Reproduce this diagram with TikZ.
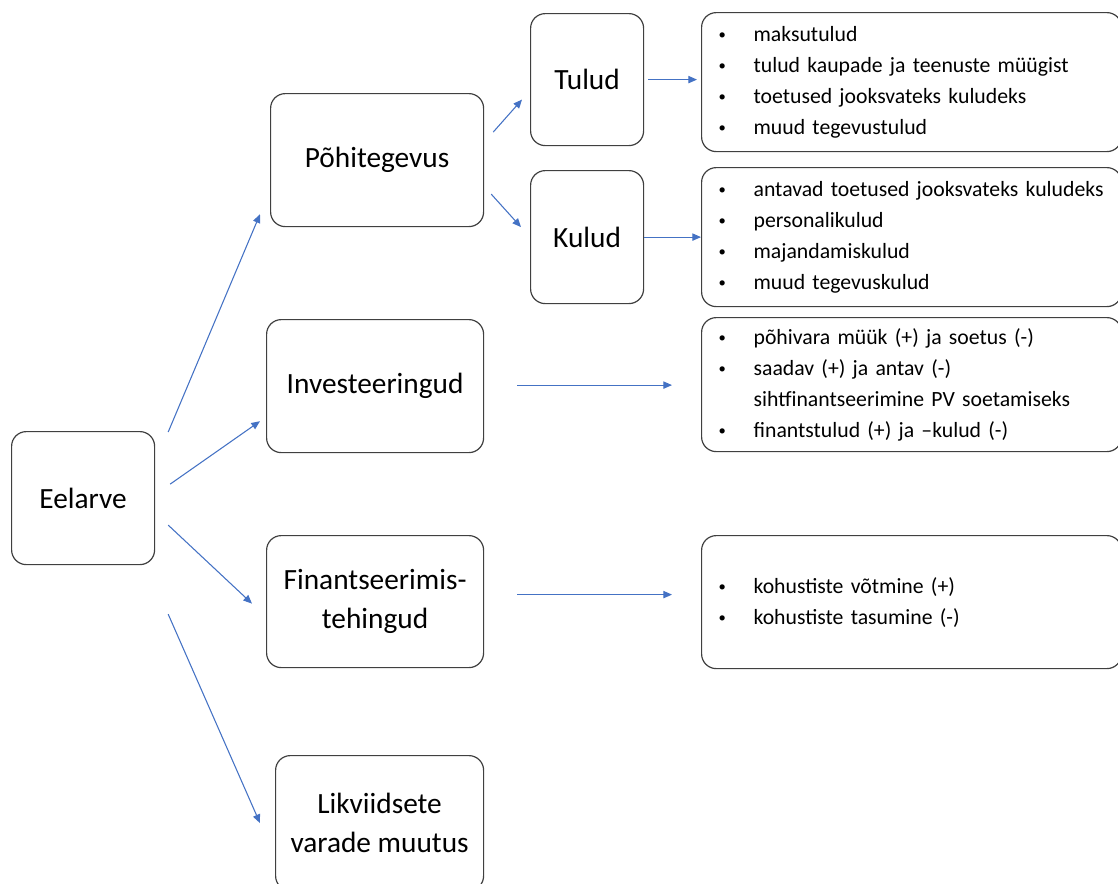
\documentclass[tikz,border=0pt]{standalone}
\usepackage{fontspec}
\setmainfont{Carlito}
\newfontfamily\listfont{Carlito}[WordSpace=0.7]
\usetikzlibrary{arrows.meta,calc}
\definecolor{arrblue}{HTML}{4472C4}
\definecolor{edge}{HTML}{404040}
\tikzset{
  box/.style={draw=edge, line width=0.9pt, rounded corners=11pt, align=center, anchor=north west,
    inner sep=0pt, font=\fontsize{22}{29.5}\selectfont},
  listbox/.style={draw=edge, line width=0.9pt, rounded corners=11pt, align=left, anchor=north west,
    inner xsep=11.25pt, inner ysep=0pt, text width=292.5pt, font=\listfont\fontsize{16.3}{23.2}\selectfont},
  arr/.style={draw=arrblue, line width=0.8pt, -{Triangle[length=6.5pt,width=5.5pt]}}
}
\newcommand{\bul}{\makebox[27.75pt][l]{\hspace{1.5pt}\raisebox{1.2pt}{\fontsize{11}{11}\selectfont\textbullet}}}
\newcommand{\nobul}{\makebox[27.75pt][l]{}}
\newcommand{\li}[1]{\bul\mbox{#1}}
\begin{document}
\begin{tikzpicture}[x=0.75pt,y=-0.75pt]
\useasboundingbox (0,0) rectangle (1118,883);

% left column
\node[box, minimum width=107.25pt, minimum height=99.75pt] (eelarve) at (11,431) {Eelarve};

% middle column
\node[box, minimum width=159.75pt, minimum height=99.75pt] (pohi) at (270,93) {Põhitegevus};
\node[box, minimum width=162.75pt, minimum height=99.75pt] (invest) at (266,319) {Investeeringud};
\node[box, minimum width=162.75pt, minimum height=99pt] (finants) at (266,535) {Finantseerimis-\\tehingud};
\node[box, minimum width=156pt, minimum height=101.25pt] (likv) at (275,755) {Likviidsete\\varade muutus};

\node[box, minimum width=84.75pt, minimum height=99pt] (tulud) at (530,13) {Tulud};
\node[box, minimum width=84.75pt, minimum height=99.75pt] (kulud) at (530,170) {Kulud};

% right column
\node[listbox, minimum height=104.25pt] (lista) at (701,12) {%
  \li{maksutulud}\\
  \li{tulud kaupade ja teenuste müügist}\\
  \li{toetused jooksvateks kuludeks}\\
  \li{muud tegevustulud}};
\node[listbox, minimum height=104.25pt] (listb) at (701,167) {%
  \li{antavad toetused jooksvateks kuludeks}\\
  \li{personalikulud}\\
  \li{majandamiskulud}\\
  \li{muud tegevuskulud}};
\node[listbox, minimum height=100.5pt] (listc) at (701,317) {%
  \li{põhivara müük (+) ja soetus (-)}\\
  \li{saadav (+) ja antav (-)}\\
  \nobul\mbox{sihtfinantseerimine PV soetamiseks}\\
  \li{finantstulud (+) ja –kulud (-)}};
\node[listbox, minimum height=99.75pt] (listd) at (701,535) {%
  \li{kohustiste võtmine (+)}\\
  \li{kohustiste tasumine (-)}};

% arrows
\draw[arr] ($(eelarve.north east)+(13,1)$) -- ($(pohi.south west)+(-10,-13)$);
\draw[arr] ($(eelarve.east)+(15,-14)$) -- ($(invest.south west)+(-6,-32)$);
\draw[arr] ($(eelarve.east)+(13,27)$) -- ($(finants.west)+(-14,2)$);
\draw[arr] ($(eelarve.south east)+(13,49)$) -- ($(likv.west)+(-15,0)$);

\draw[arr] ($(pohi.east)+(9,-28)$) -- ($(tulud.west)+(-8,20)$);
\draw[arr] ($(pohi.east)+(7,34)$) -- ($(kulud.west)+(-9,-10)$);

\draw[arr] ($(tulud.east)+(4,0)$) -- ($(tulud.east -| lista.west)+(-4,0)$);
\draw[arr] (kulud.east) -- (kulud.east -| listb.west);
\draw[arr] ($(invest.east)+(33,-1)$) -- ($(invest.east -| listc.west)+(-29,-1)$);
\draw[arr] ($(finants.east)+(33,-7)$) -- ($(finants.east -| listd.west)+(-29,-7)$);
\end{tikzpicture}
\end{document}
